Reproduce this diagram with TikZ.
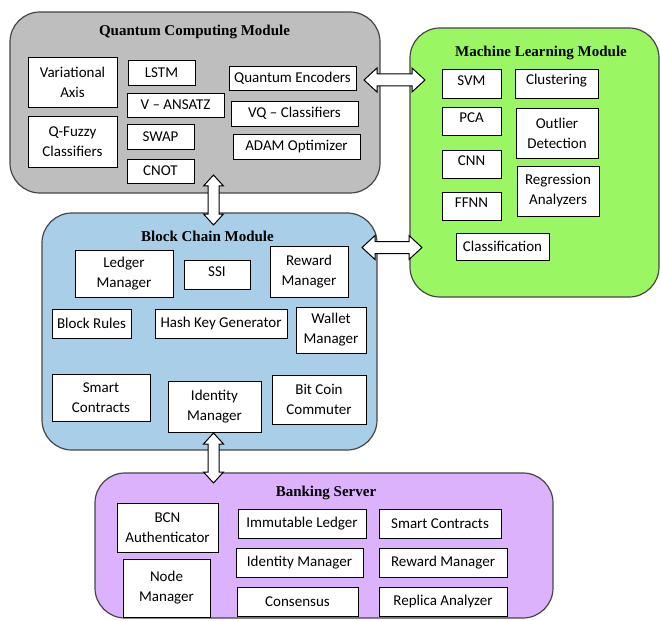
\documentclass[tikz,border=0pt]{standalone}
\usepackage{fontspec}
\setmainfont{Carlito}
\newfontfamily\titlefont{Liberation Serif}
\usetikzlibrary{calc}
\definecolor{qgray}{RGB}{190,190,190}
\definecolor{mlgreen}{RGB}{155,246,100}
\definecolor{bcblue}{RGB}{168,206,232}
\definecolor{bkpurple}{RGB}{220,178,252}
\definecolor{modedge}{RGB}{70,70,70}
\newcommand\bx[6]{\node[box, minimum width={(#4-#2)*1pt}, minimum height={(#5-#3)*1pt}] (#1) at ({(#2+#4)/2},{(#3+#5)/2}) {#6};}
\newcommand\up[1]{\raisebox{3pt}[\height][\depth]{#1}}
\newcommand\md[6]{\node[module, fill=#6, minimum width={(#4-#2)*1pt}, minimum height={(#5-#3)*1pt}] (#1) at ({(#2+#4)/2},{(#3+#5)/2}) {};}
\newcommand\vdarrow[2]{\draw[barrow] (#1) -- ++(10,11) -- ++(-4.5,0) -- ($(#2)+(5.5,-11)$) -- ++(4.5,0) -- (#2) -- ++(-10,-11) -- ++(4.5,0) -- ($(#1)+(-5.5,11)$) -- ++(-4.5,0) -- cycle;}
\newcommand\hdarrow[2]{\draw[barrow] (#1) -- ++(13,-12) -- ++(0,6) -- ($(#2)+(-13,-6)$) -- ++(0,-6) -- (#2) -- ++(-13,12) -- ++(0,-6) -- ($(#1)+(13,6)$) -- ++(0,6) -- cycle;}
\begin{document}
\begin{tikzpicture}[x=1pt,y=-1pt,
  module/.style={draw=modedge, line width=1.2pt, rounded corners=30pt, inner sep=0pt},
  box/.style={draw=black, fill=white, line width=0.8pt, inner sep=0pt, align=center, font=\fontsize{15}{20}\selectfont},
  title/.style={font=\titlefont\bfseries\fontsize{15}{18}\selectfont},
  barrow/.style={draw=black, fill=white, line width=1pt, line join=miter}]
\useasboundingbox (0,0) rectangle (660,620);
\fill[white] (0,0) rectangle (660,620);
% modules
\md{qc}{10}{12}{380}{193}{qgray}
\md{ml}{410}{28}{659}{297}{mlgreen}
\md{bc}{42}{213}{377}{450}{bcblue}
\md{bk}{95}{473}{553}{618}{bkpurple}
\node[title] (qct) at (194.5,32) {Quantum Computing Module};
\node[title] (mlt) at (541,53) {Machine Learning Module};
\node[title] (bct) at (207.5,236) {Block Chain Module};
\node[title] (bkt) at (326,493) {Banking Server};
% arrows
\coordinate (a1) at (213.5,175); \coordinate (a2) at (213.5,225);
\vdarrow{a1}{a2}
\coordinate (b1) at (213.5,433); \coordinate (b2) at (213.5,483);
\vdarrow{b1}{b2}
\coordinate (c1) at (364,80); \coordinate (c2) at (425,80);
\hdarrow{c1}{c2}
\coordinate (d1) at (362,247.5); \coordinate (d2) at (422,247.5);
\hdarrow{d1}{d2}
% quantum boxes
\bx{va}{28}{57}{117}{107}{Variational\\Axis}
\bx{qf}{28}{116}{117}{167}{Q-Fuzzy\\Classifiers}
\bx{lstm}{128}{60}{195}{85}{LSTM}
\bx{vans}{127}{93}{224}{117}{V -- ANSATZ}
\bx{swap}{127}{124}{194}{149}{SWAP}
\bx{cnot}{127}{159}{194}{183}{CNOT}
\bx{qe}{229}{66}{356}{90}{Quantum Encoders}
\bx{vq}{231}{101}{358}{126}{VQ -- Classifiers}
\bx{adam}{233}{134}{360}{159}{ADAM Optimizer}
% ML boxes
\bx{svm}{442}{69}{501}{98}{\up{SVM}}
\bx{clu}{515}{69}{598}{98}{\up{Clustering}}
\bx{pca}{442}{107}{501}{135}{\up{PCA}}
\bx{out}{516}{108}{598}{158}{Outlier\\Detection}
\bx{cnn}{442}{150}{501}{178}{\up{CNN}}
\bx{reg}{517}{166}{599}{216}{Regression\\Analyzers}
\bx{ffnn}{442}{192}{501}{220}{\up{FFNN}}
\bx{cla}{456}{233}{549}{260}{Classification}
% block chain boxes
\bx{lm}{75}{250}{173}{297}{Ledger\\Manager}
\bx{ssi}{184}{260}{250}{289}{\up{SSI}}
\bx{rm}{270}{246}{348}{297}{Reward\\Manager}
\bx{br}{52}{309}{131}{338}{Block Rules}
\bx{hk}{155}{309}{287}{338}{Hash Key Generator}
\bx{wm}{296}{307}{366}{353}{Wallet\\Manager}
\bx{sc}{52}{374}{150}{421}{Smart\\Contracts}
\bx{im}{168}{381}{261}{432}{Identity\\Manager}
\bx{bcc}{272}{375}{366}{424}{Bit Coin\\Commuter}
% banking boxes
\bx{bcn}{117}{503}{218}{552}{BCN\\Authenticator}
\bx{nm}{123}{559}{210}{617}{Node\\Manager}
\bx{il}{238}{509}{366}{538}{Immutable Ledger}
\bx{sc2}{379}{509}{501}{538}{Smart Contracts}
\bx{im2}{236}{548}{363}{577}{Identity Manager}
\bx{rm2}{379}{548}{507}{577}{Reward Manager}
\bx{con}{237}{587}{358}{616}{Consensus}
\bx{rep}{379}{587}{507}{616}{Replica Analyzer}
\end{tikzpicture}
\end{document}
